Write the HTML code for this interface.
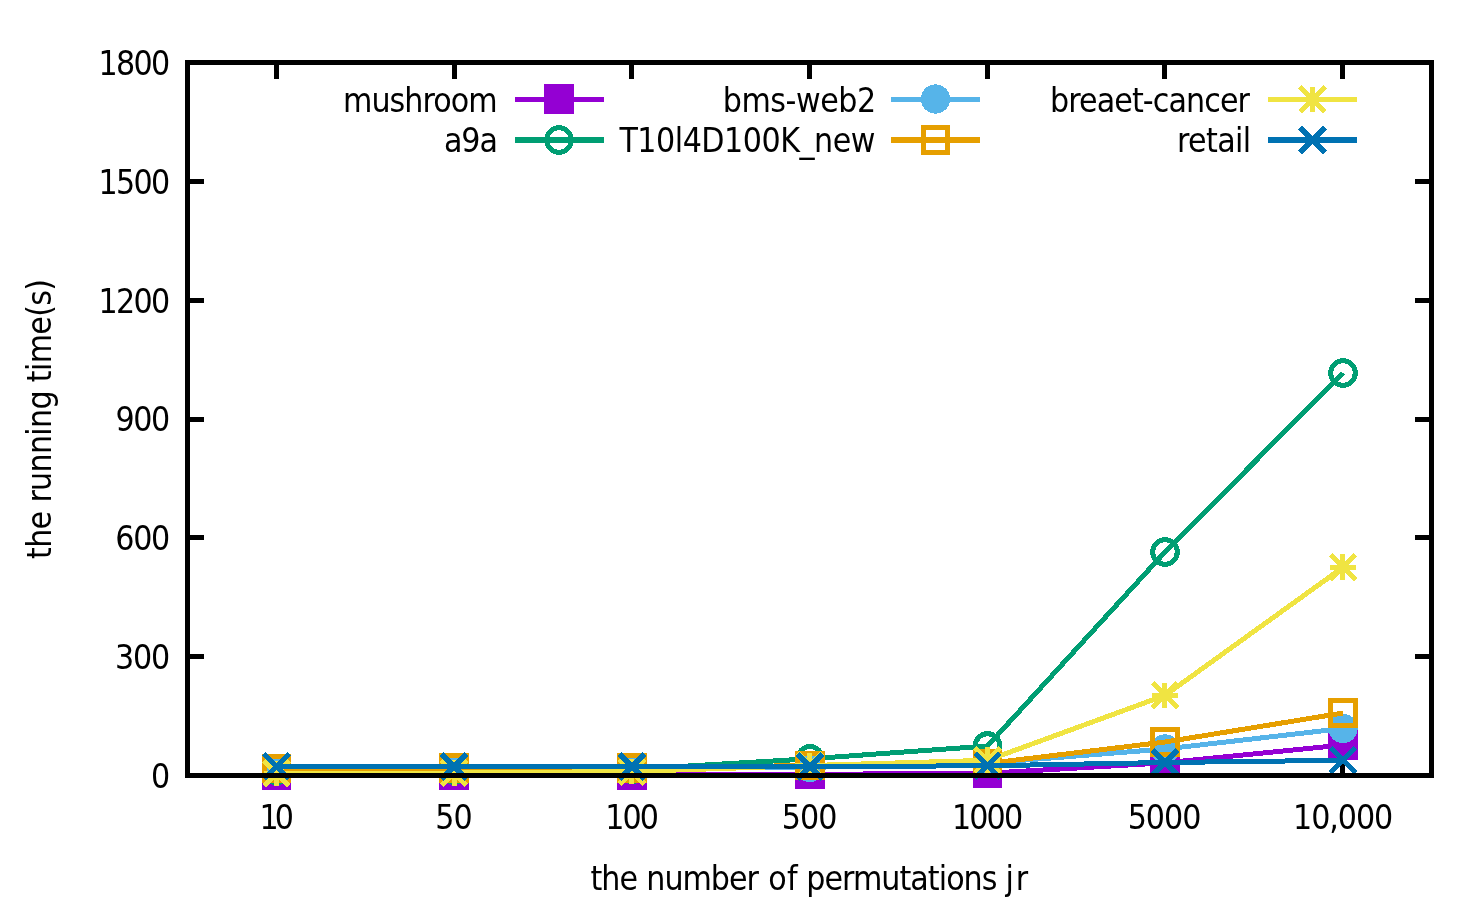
<!DOCTYPE html>
<html lang="en"><head><meta charset="utf-8"><title>running time vs permutations</title>
<style>
html,body{margin:0;padding:0;background:#fff;}
body{width:1483px;height:918px;overflow:hidden;}
svg{display:block;}
text{font-family:"DejaVu Sans Condensed", "DejaVu Sans", "Liberation Sans", sans-serif;font-size:33.5px;fill:#000;}
</style></head><body>
<svg width="1483" height="918" viewBox="0 0 1483 918" shape-rendering="crispEdges">
<rect width="1483" height="918" fill="#fff"/>
<g stroke="#000" stroke-width="5" fill="none" shape-rendering="crispEdges">
<path d="M276.5 775.5V759.0M276.5 62.5V79.0"/>
<path d="M454.5 775.5V759.0M454.5 62.5V79.0"/>
<path d="M631.5 775.5V759.0M631.5 62.5V79.0"/>
<path d="M809.5 775.5V759.0M809.5 62.5V79.0"/>
<path d="M987.5 775.5V759.0M987.5 62.5V79.0"/>
<path d="M1164.5 775.5V759.0M1164.5 62.5V79.0"/>
<path d="M1342.5 775.5V759.0M1342.5 62.5V79.0"/>
<path d="M187.5 775.50H204.0M1431.5 775.50H1415.0"/>
<path d="M187.5 656.67H204.0M1431.5 656.67H1415.0"/>
<path d="M187.5 537.83H204.0M1431.5 537.83H1415.0"/>
<path d="M187.5 419.00H204.0M1431.5 419.00H1415.0"/>
<path d="M187.5 300.17H204.0M1431.5 300.17H1415.0"/>
<path d="M187.5 181.33H204.0M1431.5 181.33H1415.0"/>
<path d="M187.5 62.50H204.0M1431.5 62.50H1415.0"/>
</g>
<g>
<text x="151.00" y="788.00">0</text>
<text x="115.05" y="669.00" textLength="55.14" lengthAdjust="spacing">300</text>
<text x="115.30" y="550.00" textLength="54.89" lengthAdjust="spacing">600</text>
<text x="115.55" y="431.00" textLength="54.64" lengthAdjust="spacing">900</text>
<text x="98.40" y="313.00" textLength="71.76" lengthAdjust="spacing">1200</text>
<text x="98.40" y="194.00" textLength="71.76" lengthAdjust="spacing">1500</text>
<text x="98.40" y="75.00" textLength="71.76" lengthAdjust="spacing">1800</text>
</g><g>
<text x="259.60" y="829.00" textLength="34.40" lengthAdjust="spacing">10</text>
<text x="435.25" y="829.00" textLength="37.34" lengthAdjust="spacing">50</text>
<text x="605.25" y="829.00" textLength="53.77" lengthAdjust="spacing">100</text>
<text x="781.85" y="829.00" textLength="55.52" lengthAdjust="spacing">500</text>
<text x="951.90" y="829.00" textLength="71.24" lengthAdjust="spacing">1000</text>
<text x="1127.70" y="829.00" textLength="73.64" lengthAdjust="spacing">5000</text>
<text x="1293.05" y="829.00" textLength="100.14" lengthAdjust="spacing">10,000</text>
<text x="590.40" y="890.00" textLength="47.67" lengthAdjust="spacing">the</text>
<text x="646.30" y="890.00" textLength="112.56" lengthAdjust="spacing">number</text>
<text x="768.15" y="890.00" textLength="29.35" lengthAdjust="spacing">of</text>
<text x="806.30" y="890.00" textLength="191.16" lengthAdjust="spacing">permutations</text>
<text x="1005.50" y="890.00" textLength="22.62" lengthAdjust="spacing">jr</text>
<text transform="translate(50.9 558.2) rotate(-90)" x="-0.75" y="0" textLength="280.05" lengthAdjust="spacing">the running time(s)</text>
</g>
<g>
<text x="342.95" y="112.00" textLength="154.61" lengthAdjust="spacing">mushroom</text>
<path d="M515.0 99.5H604.0" stroke="#9400D3" stroke-width="5"/>
<path d="M544 84H574V114H544Z" fill="#9400D3"/>
<text x="443.90" y="152.00" textLength="53.96" lengthAdjust="spacing">a9a</text>
<path d="M515.0 140H604.0" stroke="#009E73" stroke-width="6"/>
<circle cx="559.00" cy="140.00" r="12.3" fill="none" stroke="#009E73" stroke-width="5"/>
<text x="722.80" y="112.00" textLength="153.29" lengthAdjust="spacing">bms-web2</text>
<path d="M891.0 99.5H980.0" stroke="#56B4E9" stroke-width="5"/>
<circle cx="935.50" cy="99.00" r="14.65" fill="#56B4E9"/>
<text x="619.40" y="152.00" textLength="256.06" lengthAdjust="spacing">T10l4D100K_new</text>
<path d="M891.0 140H980.0" stroke="#E69F00" stroke-width="6"/>
<path d="M921 125H950V155H921ZM926 130V150H945V130Z" fill="#E69F00" fill-rule="evenodd"/>
<text x="1050.10" y="112.00" textLength="199.89" lengthAdjust="spacing">breaet-cancer</text>
<path d="M1268.0 99.5H1357.0" stroke="#F0E442" stroke-width="5"/>
<path d="M1300.00 87.00L1325.00 112.00M1300.00 112.00L1325.00 87.00M1312.50 87.00L1312.50 112.00M1300.00 99.50L1325.00 99.50" fill="none" stroke="#F0E442" stroke-width="5"/>
<text x="1176.90" y="152.00" textLength="74.33" lengthAdjust="spacing">retail</text>
<path d="M1268.0 140H1357.0" stroke="#0072B2" stroke-width="6"/>
<path d="M1300.00 127.50L1325.00 152.50M1300.00 152.50L1325.00 127.50" fill="none" stroke="#0072B2" stroke-width="5"/>
</g>
<g><polyline points="276.50,775.00 454.00,775.00 632.00,775.00 810.00,774.30 987.50,773.30 1165.00,762.80 1343.00,745.00" fill="none" stroke="#9400D3" stroke-width="5" stroke-linejoin="round"/>
<path d="M262 760H291V790H262Z" fill="#9400D3"/>
<path d="M439 760H469V790H439Z" fill="#9400D3"/>
<path d="M617 760H647V790H617Z" fill="#9400D3"/>
<path d="M795 760H825V789H795Z" fill="#9400D3"/>
<path d="M973 759H1002V788H973Z" fill="#9400D3"/>
<path d="M1150 748H1180V777H1150Z" fill="#9400D3"/>
<path d="M1328 730H1358V760H1328Z" fill="#9400D3"/>
</g>
<g><polyline points="276.50,770.50 454.00,770.00 632.00,769.30 810.00,758.80 987.50,746.00 1165.00,552.00 1343.00,373.00" fill="none" stroke="#009E73" stroke-width="5" stroke-linejoin="round"/>
<circle cx="276.50" cy="770.50" r="12.3" fill="none" stroke="#009E73" stroke-width="5"/>
<circle cx="454.00" cy="770.00" r="12.3" fill="none" stroke="#009E73" stroke-width="5"/>
<circle cx="632.00" cy="769.30" r="12.3" fill="none" stroke="#009E73" stroke-width="5"/>
<circle cx="810.00" cy="758.80" r="12.3" fill="none" stroke="#009E73" stroke-width="5"/>
<circle cx="987.50" cy="746.00" r="12.3" fill="none" stroke="#009E73" stroke-width="5"/>
<circle cx="1165.00" cy="552.00" r="12.3" fill="none" stroke="#009E73" stroke-width="5"/>
<circle cx="1343.00" cy="373.00" r="12.3" fill="none" stroke="#009E73" stroke-width="5"/>
</g>
<g><polyline points="276.50,768.50 454.00,768.00 632.00,768.00 810.00,767.40 987.50,763.00 1165.00,749.00 1343.00,728.50" fill="none" stroke="#56B4E9" stroke-width="5" stroke-linejoin="round"/>
<circle cx="276.50" cy="768.50" r="14.65" fill="#56B4E9"/>
<circle cx="454.00" cy="768.00" r="14.65" fill="#56B4E9"/>
<circle cx="632.00" cy="768.00" r="14.65" fill="#56B4E9"/>
<circle cx="810.00" cy="767.40" r="14.65" fill="#56B4E9"/>
<circle cx="987.50" cy="763.00" r="14.65" fill="#56B4E9"/>
<circle cx="1165.00" cy="749.00" r="14.65" fill="#56B4E9"/>
<circle cx="1343.00" cy="728.50" r="14.65" fill="#56B4E9"/>
</g>
<g><polyline points="276.50,768.50 454.00,768.00 632.00,768.00 810.00,765.50 987.50,763.50 1165.00,742.00 1343.00,713.00" fill="none" stroke="#E69F00" stroke-width="5" stroke-linejoin="round"/>
<path d="M262 754H291V783H262ZM267 759V778H286V759Z" fill="#E69F00" fill-rule="evenodd"/>
<path d="M439 753H469V783H439ZM444 758V778H464V758Z" fill="#E69F00" fill-rule="evenodd"/>
<path d="M617 753H647V783H617ZM622 758V778H642V758Z" fill="#E69F00" fill-rule="evenodd"/>
<path d="M795 751H825V780H795ZM800 756V775H820V756Z" fill="#E69F00" fill-rule="evenodd"/>
<path d="M973 749H1002V778H973ZM978 754V773H997V754Z" fill="#E69F00" fill-rule="evenodd"/>
<path d="M1150 727H1180V757H1150ZM1155 732V752H1175V732Z" fill="#E69F00" fill-rule="evenodd"/>
<path d="M1328 698H1358V728H1328ZM1333 703V723H1353V703Z" fill="#E69F00" fill-rule="evenodd"/>
</g>
<g><polyline points="276.50,773.50 454.00,773.00 632.00,771.50 810.00,765.50 987.50,760.30 1165.00,695.40 1343.00,567.30" fill="none" stroke="#F0E442" stroke-width="5" stroke-linejoin="round"/>
<path d="M264.00 761.00L289.00 786.00M264.00 786.00L289.00 761.00M276.50 760.60L276.50 786.40M263.60 773.50L289.40 773.50" fill="none" stroke="#F0E442" stroke-width="5"/>
<path d="M441.50 760.50L466.50 785.50M441.50 785.50L466.50 760.50M454.50 760.10L454.50 785.90M441.10 773.50L466.90 773.50" fill="none" stroke="#F0E442" stroke-width="5"/>
<path d="M619.50 759.00L644.50 784.00M619.50 784.00L644.50 759.00M631.50 758.60L631.50 784.40M619.10 771.50L644.90 771.50" fill="none" stroke="#F0E442" stroke-width="5"/>
<path d="M797.50 753.00L822.50 778.00M797.50 778.00L822.50 753.00M809.50 752.60L809.50 778.40M797.10 765.50L822.90 765.50" fill="none" stroke="#F0E442" stroke-width="5"/>
<path d="M975.00 747.80L1000.00 772.80M975.00 772.80L1000.00 747.80M987.50 747.40L987.50 773.20M974.60 760.50L1000.40 760.50" fill="none" stroke="#F0E442" stroke-width="5"/>
<path d="M1152.50 682.90L1177.50 707.90M1152.50 707.90L1177.50 682.90M1164.50 682.50L1164.50 708.30M1152.10 695.50L1177.90 695.50" fill="none" stroke="#F0E442" stroke-width="5"/>
<path d="M1330.50 554.80L1355.50 579.80M1330.50 579.80L1355.50 554.80M1342.50 554.40L1342.50 580.20M1330.10 567.50L1355.90 567.50" fill="none" stroke="#F0E442" stroke-width="5"/>
</g>
<g><polyline points="276.50,766.50 454.00,766.50 632.00,766.50 810.00,766.50 987.50,765.80 1165.00,762.50 1343.00,760.30" fill="none" stroke="#0072B2" stroke-width="5" stroke-linejoin="round"/>
<path d="M264.00 754.00L289.00 779.00M264.00 779.00L289.00 754.00" fill="none" stroke="#0072B2" stroke-width="5"/>
<path d="M441.50 754.00L466.50 779.00M441.50 779.00L466.50 754.00" fill="none" stroke="#0072B2" stroke-width="5"/>
<path d="M619.50 754.00L644.50 779.00M619.50 779.00L644.50 754.00" fill="none" stroke="#0072B2" stroke-width="5"/>
<path d="M797.50 754.00L822.50 779.00M797.50 779.00L822.50 754.00" fill="none" stroke="#0072B2" stroke-width="5"/>
<path d="M975.00 753.30L1000.00 778.30M975.00 778.30L1000.00 753.30" fill="none" stroke="#0072B2" stroke-width="5"/>
<path d="M1152.50 750.00L1177.50 775.00M1152.50 775.00L1177.50 750.00" fill="none" stroke="#0072B2" stroke-width="5"/>
<path d="M1330.50 747.80L1355.50 772.80M1330.50 772.80L1355.50 747.80" fill="none" stroke="#0072B2" stroke-width="5"/>
</g>
<rect x="187.5" y="62.5" width="1244.0" height="713.0" fill="none" stroke="#000" stroke-width="5" shape-rendering="crispEdges"/>
</svg></body></html>
